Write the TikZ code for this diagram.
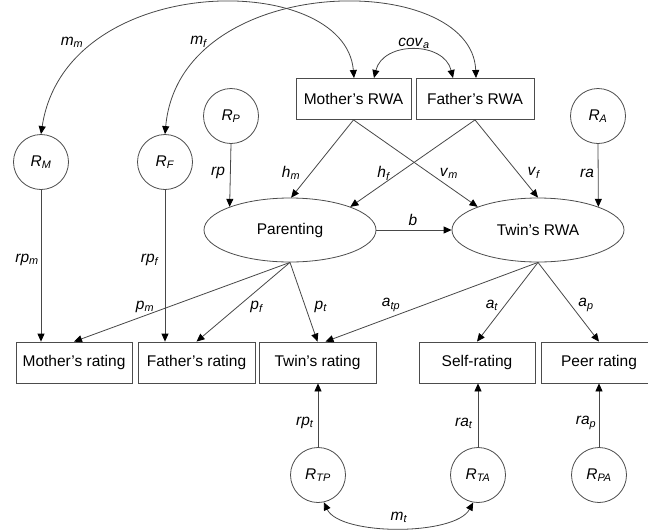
\documentclass[tikz,border=0pt]{standalone}
\usepackage{fontspec}
\setmainfont{Liberation Sans}
\usetikzlibrary{arrows.meta,shapes.geometric,calc}
\newcommand{\labsub}[2]{\textit{#1}\textsubscript{\textit{#2}}}
\begin{document}
\begin{tikzpicture}[x=1pt,y=-1pt,
  font=\fontsize{15.5}{18}\selectfont,
  line/.style={draw=black!72, line width=0.8pt},
  tip/.tip={Triangle[length=8pt,width=7pt,color=black]},
  arr/.style={line,-tip},
  dbl/.style={line,tip-tip},
  box/.style={draw=black!70, line width=0.8pt, rectangle, minimum height=41pt, inner sep=0pt},
  res/.style={draw=black!70, line width=0.8pt, circle, minimum size=55pt, inner sep=0pt},
  lat/.style={draw=black!70, line width=0.8pt, ellipse, minimum width=172pt, minimum height=64pt, inner sep=0pt},
  lab/.style={inner sep=0pt}]
\useasboundingbox (0,0) rectangle (648,531);

% observed parents
\node[box, minimum width=115pt] (mrwa) at (353.5,99) {Mother's RWA};
\node[box, minimum width=118pt] (frwa) at (475,99) {Father's RWA};

% residual circles
\node[res] (RM) at (41,162) {\labsub{R}{M}};
\node[res] (RF) at (165,162) {\labsub{R}{F}};
\node[res] (RP) at (231,116) {\labsub{R}{P}};
\node[res] (RA) at (598,116) {\labsub{R}{A}};
\node[res] (RTP) at (318,475) {\labsub{R}{TP}};
\node[res] (RTA) at (478,475) {\labsub{R}{TA}};
\node[res] (RPA) at (599,475) {\labsub{R}{PA}};

% latent
\node[lat] (par) at (290,230) {Parenting};
\node[lat] (twin) at (538,230) {Twin's RWA};

% ratings
\node[box, minimum width=116pt] (mr) at (74,362.5) {Mother's rating};
\node[box, minimum width=117pt] (fr) at (196.5,362.5) {Father's rating};
\node[box, minimum width=117pt] (tr) at (317.5,362.5) {Twin's rating};
\node[box, minimum width=116pt] (sr) at (477,362.5) {Self-rating};
\node[box, minimum width=116pt] (pr) at (599,362.5) {Peer rating};

% correlations
\coordinate (mtop) at (354,78);
\coordinate (ftop) at (476,78);
\coordinate (cova) at (374,78);
\coordinate (covb) at (453,78);
\draw[dbl] (RM.north) .. controls (66,-30) and (345,-30) .. (mtop);
\draw[dbl] (RF.north) .. controls (180,-30) and (472,-30) .. (ftop);
\draw[dbl] (cova) .. controls (383,41) and (444,41) .. (covb);
\draw[dbl] (RTP.-78) .. controls (340,536) and (455,536) .. (RTA.-100);

% residual paths
\draw[arr] (RM.south) -- (RM.south |- mr.north);
\draw[arr] (RF.south) -- (RF.south |- fr.north);
\draw[arr] (RP.south) -- (par.159);
\draw[arr] (RA.south) -- (twin.21);
\draw[arr] (RTP.north) -- (RTP.north |- tr.south);
\draw[arr] (RTA.north) -- (RTA.north |- sr.south);
\draw[arr] (RPA.north) -- (pr.south);

% structural paths
\draw[arr] (mrwa.south) -- (par.88);
\draw[arr] (mrwa.south) -- (twin.159);
\draw[arr] (frwa.south) -- (par.21);
\draw[arr] (frwa.south) -- (twin.north);
\draw[arr] (par.east) -- (twin.west);

% measurement paths
\draw[arr] (par.south) -- (mr.north);
\draw[arr] (par.south) -- (fr.north);
\draw[arr] (par.south) -- (tr.north);
\draw[arr] (twin.south) -- ([xshift=8pt]tr.north);
\draw[arr] (twin.south) -- (sr.north);
\draw[arr] (twin.south) -- (pr.north);

% labels
\node[lab] (lmm) at (72,42) {\labsub{m}{m}};
\node[lab] (lmf) at (199,42) {\labsub{m}{f}};
\node[lab] (lcov) at (414,43) {\labsub{cov}{a}};
\node[lab] (lrp) at (218,173) {\textit{rp}};
\node[lab] (lhm) at (291,173) {\labsub{h}{m}};
\node[lab] (lhf) at (384,173) {\labsub{h}{f}};
\node[lab] (lvm) at (449,173) {\labsub{v}{m}};
\node[lab] (lvf) at (534,173) {\labsub{v}{f}};
\node[lab] (lra) at (587,173) {\textit{ra}};
\node[lab] (lrpm) at (27,260) {\labsub{rp}{m}};
\node[lab] (lrpf) at (150,260) {\labsub{rp}{f}};
\node[lab] (lb) at (413,220) {\textit{b}};
\node[lab] (lpm) at (145,307) {\labsub{p}{m}};
\node[lab] (lpf) at (257,307) {\labsub{p}{f}};
\node[lab] (lpt) at (321,307) {\labsub{p}{t}};
\node[lab] (latp) at (391,305) {\labsub{a}{tp}};
\node[lab] (lat) at (492,305) {\labsub{a}{t}};
\node[lab] (lap) at (586,305) {\labsub{a}{p}};
\node[lab] (lrpt) at (305,423) {\labsub{rp}{t}};
\node[lab] (lrat) at (464,423) {\labsub{ra}{t}};
\node[lab] (lrap) at (586,423) {\labsub{ra}{p}};
\node[lab] (lmt) at (399,517) {\labsub{m}{t}};
\end{tikzpicture}
\end{document}
